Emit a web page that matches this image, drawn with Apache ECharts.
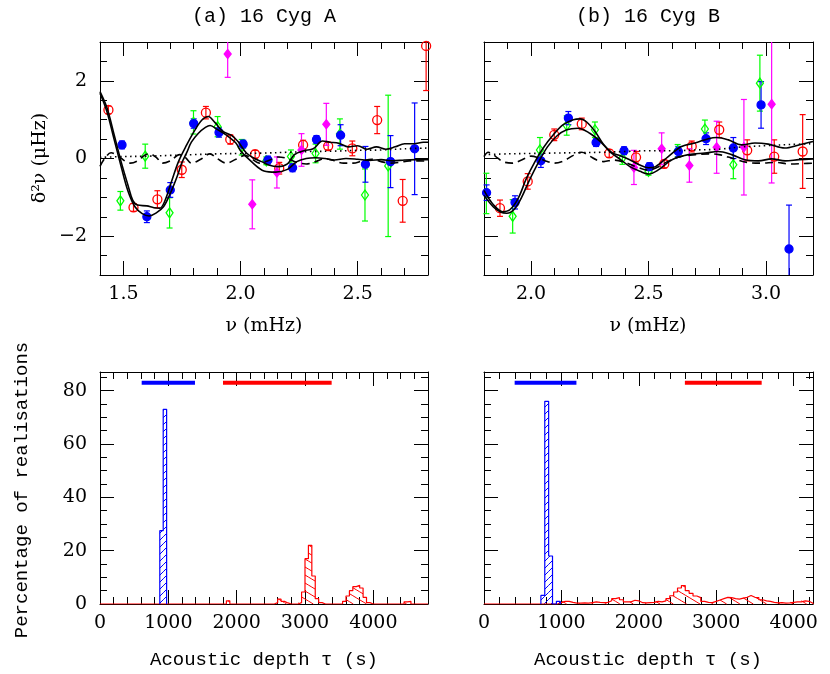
<!DOCTYPE html>
<html>
<head>
<meta charset="utf-8">
<script src="https://cdn.jsdelivr.net/npm/echarts@6.0.0/dist/echarts.min.js"></script>
<style>
html, body { margin: 0; padding: 0; background: #fff; }
#chart { width: 830px; height: 674px; }
</style>
</head>
<body>
<div id="chart"></div>
<script>
// ---------- data ----------
// second differences: [nu (mHz), d2nu (uHz), error]
const cygABlue = [[1.494,0.35,0.1],[1.600,-1.50,0.15],[1.700,-0.81,0.19],[1.800,0.90,0.12],[1.908,0.67,0.12],[2.011,0.37,0.1],[2.117,-0.04,0.1],[2.222,-0.24,0.1],[2.324,0.49,0.1],[2.427,0.60,0.27],[2.533,-0.15,0.46],[2.640,-0.08,0.67],[2.743,0.25,1.18]];
const cygARed = [[1.436,1.25,0.1],[1.543,-1.26,0.1],[1.645,-1.05,0.22],[1.749,-0.29,0.2],[1.852,1.18,0.16],[1.956,0.49,0.12],[2.062,0.11,0.1],[2.165,-0.25,0.15],[2.267,0.35,0.12],[2.374,0.32,0.1],[2.477,0.26,0.19],[2.583,0.99,0.35],[2.692,-1.09,0.55],[2.792,2.90,1.15]];
const cygAGreen = [[1.487,-1.09,0.24],[1.593,0.06,0.31],[1.697,-1.40,0.39],[1.799,0.93,0.30],[1.902,0.82,0.26],[2.005,0.29,0.2],[2.110,-0.06,0.1],[2.215,0.05,0.17],[2.320,0.13,0.24],[2.424,0.63,0.39],[2.531,-0.94,0.67],[2.630,-0.19,1.82]];
const cygAMagenta = [[1.945,2.69,0.6],[2.050,-1.18,0.63],[2.155,-0.36,0.4],[2.260,0.22,0.42],[2.366,0.88,0.54]];

const cygBBlue = [[1.811,-0.88,0.2],[1.932,-1.13,0.17],[2.042,-0.06,0.17],[2.159,1.04,0.17],[2.277,0.41,0.1],[2.396,0.20,0.1],[2.504,-0.21,0.1],[2.627,0.18,0.13],[2.745,0.51,0.15],[2.861,0.27,0.27],[2.979,1.38,0.6],[3.098,-2.33,1.13]];
const cygBRed = [[1.868,-1.28,0.21],[1.986,-0.59,0.2],[2.099,0.61,0.15],[2.216,0.89,0.15],[2.333,0.13,0.1],[2.447,0.03,0.15],[2.567,-0.14,0.1],[2.684,0.31,0.14],[2.801,0.74,0.2],[2.920,0.21,0.27],[3.035,0.05,0.43],[3.156,0.18,0.95]];
const cygBGreen = [[1.810,-0.90,0.52],[1.922,-1.49,0.43],[2.038,0.22,0.32],[2.152,0.85,0.25],[2.272,0.74,0.2],[2.389,0.01,0.16],[2.500,-0.33,0.1],[2.624,0.20,0.16],[2.740,0.76,0.23],[2.861,-0.16,0.36],[2.974,1.94,0.72]];
const cygBMagenta = [[2.438,-0.23,0.44],[2.556,0.25,0.41],[2.674,-0.18,0.43],[2.790,0.29,0.67],[2.906,0.29,1.23],[3.024,1.40,2.03]];

// fitted curves
const fitA1 = [[1.40,1.72],[1.43,1.30],[1.46,0.62],[1.49,-0.08],[1.52,-0.70],[1.54,-1.08],[1.56,-1.20],[1.60,-1.22],[1.63,-1.27],[1.655,-1.28],[1.675,-1.12],[1.705,-0.60],[1.735,-0.08],[1.77,0.35],[1.805,0.73],[1.835,0.99],[1.862,1.08],[1.89,0.93],[1.925,0.70],[1.96,0.60],[1.99,0.43],[2.025,0.14],[2.06,0.0],[2.09,-0.08],[2.12,-0.17],[2.16,-0.21],[2.20,-0.14],[2.23,0.10],[2.27,0.20],[2.31,0.25],[2.35,0.45],[2.38,0.42],[2.42,0.39],[2.46,0.30],[2.50,0.33],[2.54,0.24],[2.58,0.30],[2.62,0.24],[2.66,0.30],[2.70,0.38],[2.74,0.38],[2.78,0.42],[2.80,0.42]];
const fitA2 = [[1.40,1.68],[1.43,1.20],[1.46,0.50],[1.49,-0.20],[1.52,-0.85],[1.55,-1.25],[1.58,-1.42],[1.61,-1.48],[1.64,-1.40],[1.67,-1.25],[1.70,-0.90],[1.73,-0.45],[1.75,-0.10],[1.77,0.15],[1.79,0.42],[1.82,0.65],[1.85,0.80],[1.87,0.85],[1.90,0.75],[1.94,0.60],[1.98,0.40],[2.00,0.20],[2.05,-0.10],[2.10,-0.32],[2.15,-0.35],[2.20,-0.28],[2.24,-0.08],[2.28,0.0],[2.32,0.02],[2.36,0.0],[2.40,-0.04],[2.45,0.0],[2.50,-0.02],[2.55,-0.05],[2.60,-0.03],[2.65,-0.06],[2.70,-0.04],[2.75,-0.03],[2.80,-0.03]];
const dashA = [[1.40,-0.20],[1.42,0.0],[1.447,0.15],[1.48,0.05],[1.51,-0.08],[1.53,-0.12],[1.56,-0.06],[1.59,0.08],[1.611,0.12],[1.64,0.03],[1.667,-0.12],[1.70,-0.06],[1.74,0.10],[1.765,0.02],[1.79,-0.12],[1.83,-0.02],[1.869,0.12],[1.90,0.0],[1.94,-0.12],[1.98,-0.02],[2.02,0.08],[2.05,-0.02],[2.08,-0.12],[2.12,-0.05],[2.16,0.04],[2.20,0.0],[2.24,-0.10],[2.28,-0.14],[2.32,-0.08],[2.36,0.0],[2.40,-0.06],[2.44,-0.12],[2.48,-0.12],[2.52,-0.06],[2.56,-0.02],[2.60,-0.08],[2.64,-0.12],[2.68,-0.10],[2.72,-0.06],[2.76,-0.06],[2.80,-0.07]];
const dotA = [[1.40,0.03],[1.50,0.05],[1.60,0.06],[1.70,0.08],[1.80,0.10],[1.90,0.12],[2.00,0.13],[2.10,0.14],[2.20,0.16],[2.30,0.18],[2.40,0.19],[2.50,0.21],[2.60,0.22],[2.70,0.25],[2.80,0.27]];

const fitB1 = [[1.80,-0.82],[1.84,-1.19],[1.88,-1.37],[1.91,-1.32],[1.946,-1.02],[1.98,-0.52],[2.017,-0.08],[2.052,0.27],[2.095,0.61],[2.137,0.87],[2.18,1.00],[2.21,1.02],[2.237,0.94],[2.272,0.70],[2.308,0.37],[2.343,0.16],[2.38,0.07],[2.42,-0.03],[2.46,-0.16],[2.50,-0.24],[2.53,-0.21],[2.584,0.05],[2.641,0.31],[2.698,0.40],[2.755,0.51],[2.79,0.54],[2.84,0.48],[2.896,0.35],[2.953,0.40],[3.01,0.37],[3.08,0.27],[3.14,0.35],[3.20,0.44]];
const fitB2 = [[1.80,-0.95],[1.84,-1.25],[1.87,-1.38],[1.897,-1.41],[1.93,-1.30],[1.96,-1.00],[1.99,-0.60],[2.03,-0.12],[2.07,0.30],[2.11,0.58],[2.152,0.74],[2.20,0.78],[2.25,0.65],[2.294,0.44],[2.34,0.15],[2.38,-0.02],[2.421,-0.21],[2.464,-0.33],[2.50,-0.40],[2.54,-0.30],[2.60,-0.03],[2.67,0.10],[2.74,0.14],[2.797,0.18],[2.854,0.10],[2.91,-0.03],[2.968,-0.06],[3.024,-0.01],[3.081,-0.06],[3.14,-0.03],[3.20,-0.01]];
const dashB = [[1.80,0.05],[1.818,0.16],[1.85,0.05],[1.88,-0.08],[1.92,-0.12],[1.96,-0.04],[2.00,0.06],[2.03,0.02],[2.07,-0.08],[2.10,-0.12],[2.14,-0.06],[2.18,0.08],[2.216,0.16],[2.25,0.06],[2.28,-0.04],[2.31,-0.08],[2.35,-0.04],[2.40,-0.10],[2.45,-0.22],[2.50,-0.30],[2.54,-0.22],[2.58,-0.08],[2.63,0.04],[2.70,0.10],[2.76,0.12],[2.80,0.10],[2.86,0.0],[2.92,-0.10],[2.98,-0.12],[3.04,-0.10],[3.10,-0.14],[3.16,-0.13],[3.20,-0.12]];
const dotB = [[1.80,0.10],[1.90,0.12],[2.00,0.13],[2.10,0.14],[2.20,0.15],[2.30,0.16],[2.40,0.18],[2.50,0.20],[2.60,0.20],[2.70,0.22],[2.80,0.24],[2.90,0.30],[3.00,0.33],[3.10,0.36],[3.20,0.38]];

// histograms of acoustic depth: [bin start (s), percentage], bins are 50 s wide
const binW = 50;
const histABlue = [[875,27.5],[925,73]];
const histARed = [[1850,1.2],[2550,0.5],[2600,1.8],[2650,1.0],[2700,0.4],[2900,0.5],[2950,4.5],[3000,17],[3050,22],[3100,10.5],[3150,2],[3200,0.5],[3550,1],[3600,3],[3650,5],[3700,6.5],[3750,7],[3800,6],[3850,2.5],[3900,0.5],[4450,0.8],[4500,1]];
const histBBlue = [[735,3.2],[785,76],[835,18],[935,1]];
const histBRed = [[950,0.5],[1000,1.0],[1050,1.0],[1100,0.6],[1150,0.3],[1200,0.3],[1250,0.4],[1300,0.3],[1350,0.5],[1400,0.8],[1450,0.6],[1500,0.5],[1550,0.6],[1600,1.2],[1650,2.0],[1700,2.4],[1750,1.6],[1800,0.8],[1850,0.8],[1900,1.4],[1950,1.2],[2000,0.5],[2050,0.4],[2100,0.5],[2150,0.6],[2200,1.0],[2250,0.8],[2300,1.2],[2350,2.0],[2400,3.1],[2450,4.5],[2500,6.0],[2550,6.9],[2600,5.0],[2650,4.0],[2700,3.0],[2750,2.4],[2800,1.0],[2850,0.6],[2900,0.5],[2950,1.0],[3000,1.5],[3050,2.0],[3100,2.5],[3150,2.4],[3200,2.0],[3250,1.8],[3300,2.2],[3350,2.5],[3400,3.2],[3450,2.5],[3500,2.4],[3550,1.6],[3600,1.2],[3650,1.0],[3700,0.6],[3750,0.4],[3800,0.5],[3850,0.3],[3900,0.4],[3950,0.6],[4000,0.8],[4050,0.8],[4100,1.2],[4150,1.0],[4200,0.3]];

// ranges shown as thick bars near the top
const rangeLevel = 83;
const rangeABlue = [610, 1390];
const rangeARed = [1800, 3390];
const rangeBBlue = [396, 1194];
const rangeBRed = [2595, 3587];

// tick labels
const xTicksA = [1.5, 2.0, 2.5];
const xTicksB = [2.0, 2.5, 3.0];
const yTicksTop = [-2, 0, 2];
const tauTicks = [0, 1000, 2000, 3000, 4000];
const pctTicks = [0, 20, 40, 60, 80];

// ---------- chart ----------
const chart = echarts.init(document.getElementById('chart'));
const frame = {color: '#000', width: 1};
const numFont = {fontFamily: 'DejaVu Serif', fontSize: 19, color: '#000'};
const BLUE = '#0000ff', RED = '#ff0000', GREEN = '#00ff00', MAGENTA = '#ff00ff';

function fmtDec(v) { return v.toFixed(1); }
function fmtInt(v) { return v < 0 ? '\u2212' + (-v) : String(v); }

const panels = [
  {x: [1.4, 2.8], xMajor: xTicksA, xMinor: 0.1, xFmt: fmtDec, y: [-3, 3], yMajor: yTicksTop, yMinor: 0.5, yLab: true},
  {x: [1.8, 3.2], xMajor: xTicksB, xMinor: 0.1, xFmt: fmtDec, y: [-3, 3], yMajor: yTicksTop, yMinor: 0.5, yLab: false},
  {x: [0, 4800], xMajor: tauTicks, xMinor: 200, xFmt: fmtInt, y: [0, 87], yMajor: pctTicks, yMinor: 5, yLab: true},
  {x: [0, 4250], xMajor: tauTicks, xMinor: 200, xFmt: fmtInt, y: [0, 87], yMajor: pctTicks, yMinor: 5, yLab: false}
];

// four axes per side pair: long ticks + labels, short ticks, and the same mirrored
function sideAxes(g, range, major, minorStep, pos, opp, fmt) {
  const base = {gridIndex: g, type: 'value', min: range[0], max: range[1], splitLine: {show: false}};
  const line = {show: true, onZero: false, lineStyle: frame};
  const noLine = {show: false, onZero: false};
  const off = {show: false};
  const lbl = fmt ? Object.assign({show: true, customValues: major, formatter: fmt,
    margin: (pos === 'left') ? 13 : 10}, numFont) : off;
  return [
    Object.assign({}, base, {position: pos, axisLine: line, axisTick: {show: true, inside: true, length: 14, customValues: major, lineStyle: frame}, axisLabel: lbl}),
    Object.assign({}, base, {position: pos, interval: minorStep, axisLine: noLine, axisTick: {show: true, inside: true, length: 7, lineStyle: frame}, axisLabel: off}),
    Object.assign({}, base, {position: opp, axisLine: line, axisTick: {show: true, inside: true, length: 14, customValues: major, lineStyle: frame}, axisLabel: off}),
    Object.assign({}, base, {position: opp, interval: minorStep, axisLine: noLine, axisTick: {show: true, inside: true, length: 7, lineStyle: frame}, axisLabel: off})
  ];
}

const xAxes = [], yAxes = [];
panels.forEach(function (p, g) {
  xAxes.push.apply(xAxes, sideAxes(g, p.x, p.xMajor, p.xMinor, 'bottom', 'top', p.xFmt));
  yAxes.push.apply(yAxes, sideAxes(g, p.y, p.yMajor, p.yMinor, 'left', 'right', p.yLab ? fmtInt : null));
});

function ax(g) { return {xAxisIndex: 4 * g, yAxisIndex: 4 * g}; }

function errSeries(g, data, color) {
  return Object.assign({
    type: 'custom', silent: true, z: 3, data: data, encode: {x: 0, y: 1},
    renderItem: function (params, api) {
      const cs = params.coordSys;
      const x = api.value(0), y = api.value(1), e = api.value(2);
      const a = api.coord([x, y + e]), b = api.coord([x, y - e]);
      const top = Math.max(a[1], cs.y), bot = Math.min(b[1], cs.y + cs.height);
      const st = {stroke: color, lineWidth: 1.2};
      const kids = [{type: 'line', shape: {x1: a[0], y1: top, x2: a[0], y2: bot}, style: st}];
      if (a[1] >= cs.y) kids.push({type: 'line', shape: {x1: a[0] - 3, y1: a[1], x2: a[0] + 3, y2: a[1]}, style: st});
      if (b[1] <= cs.y + cs.height) kids.push({type: 'line', shape: {x1: b[0] - 3, y1: b[1], x2: b[0] + 3, y2: b[1]}, style: st});
      return {type: 'group', children: kids};
    }
  }, ax(g));
}

function pointSeries(g, data, symbol, size, fill, stroke) {
  return Object.assign({
    type: 'scatter', silent: true, z: 4, clip: true,
    data: data.map(function (d) { return [d[0], d[1]]; }),
    symbol: symbol, symbolSize: size,
    itemStyle: {color: fill, borderColor: stroke, borderWidth: 1.3, opacity: 1}
  }, ax(g));
}

function curve(g, data, type) {
  return Object.assign({
    type: 'line', silent: true, z: 5, symbol: 'none', smooth: 0.35, data: data,
    lineStyle: {color: '#000', width: 1.6, type: type}
  }, ax(g));
}

function stepSeries(g, bins, from, to, color) {
  const vals = new Map(bins);
  const pts = [[from, 0]];
  for (let s = from; s < to; s += binW) pts.push([s, vals.get(s) || 0]);
  pts.push([to, 0]);
  return Object.assign({
    type: 'line', step: 'end', symbol: 'none', silent: true, z: 3, data: pts,
    lineStyle: {color: color, width: 1.2}
  }, ax(g));
}

function hatchSeries(g, bins, color, slope, gap) {
  return Object.assign({
    type: 'custom', silent: true, z: 2,
    data: bins.map(function (b) { return [b[0], b[0] + binW, b[1]]; }),
    encode: {x: [0, 1], y: 2},
    renderItem: function (params, api) {
      const p0 = api.coord([api.value(0), api.value(2)]);
      const p1 = api.coord([api.value(1), 0]);
      const xa = p0[0], xb = p1[0], yt = p0[1], yb = p1[1];
      const cs = [yt - slope * xa, yt - slope * xb, yb - slope * xa, yb - slope * xb];
      const cmin = Math.min.apply(null, cs), cmax = Math.max.apply(null, cs);
      const kids = [];
      for (let k = Math.ceil(cmin / gap); k * gap <= cmax; k++) {
        const c = k * gap;
        const u0 = (yt - c) / slope, u1 = (yb - c) / slope;
        const lo = Math.max(xa, Math.min(u0, u1)), hi = Math.min(xb, Math.max(u0, u1));
        if (hi - lo < 0.3) continue;
        kids.push({type: 'line', shape: {x1: lo, y1: slope * lo + c, x2: hi, y2: slope * hi + c},
          style: {stroke: color, lineWidth: 1}});
      }
      return {type: 'group', children: kids};
    }
  }, ax(g));
}

function rangeSeries(g, r, color) {
  return Object.assign({
    type: 'line', symbol: 'none', silent: true, z: 4,
    data: [[r[0], rangeLevel], [r[1], rangeLevel]],
    lineStyle: {color: color, width: 4}
  }, ax(g));
}

const series = [
  curve(0, dotA, [1.5, 3.5]), curve(0, dashA, [8, 5]), curve(0, fitA2, 'solid'), curve(0, fitA1, 'solid'),
  errSeries(0, cygAGreen, GREEN), errSeries(0, cygARed, RED), errSeries(0, cygABlue, BLUE), errSeries(0, cygAMagenta, MAGENTA),
  pointSeries(0, cygAGreen, 'diamond', [7, 10], 'rgba(0,0,0,0)', GREEN),
  pointSeries(0, cygARed, 'circle', 9, 'rgba(0,0,0,0)', RED),
  pointSeries(0, cygABlue, 'circle', 8, BLUE, BLUE),
  pointSeries(0, cygAMagenta, 'diamond', [7, 9], MAGENTA, MAGENTA),

  curve(1, dotB, [1.5, 3.5]), curve(1, dashB, [8, 5]), curve(1, fitB2, 'solid'), curve(1, fitB1, 'solid'),
  errSeries(1, cygBGreen, GREEN), errSeries(1, cygBRed, RED), errSeries(1, cygBBlue, BLUE), errSeries(1, cygBMagenta, MAGENTA),
  pointSeries(1, cygBGreen, 'diamond', [7, 10], 'rgba(0,0,0,0)', GREEN),
  pointSeries(1, cygBRed, 'circle', 9, 'rgba(0,0,0,0)', RED),
  pointSeries(1, cygBBlue, 'circle', 8, BLUE, BLUE),
  pointSeries(1, cygBMagenta, 'diamond', [7, 9], MAGENTA, MAGENTA),

  hatchSeries(2, histARed, RED, 0.6, 8), stepSeries(2, histARed, 0, 4800, RED),
  hatchSeries(2, histABlue, BLUE, -1, 7), stepSeries(2, histABlue, 875, 975, BLUE),
  rangeSeries(2, rangeABlue, BLUE), rangeSeries(2, rangeARed, RED),

  hatchSeries(3, histBRed, RED, 0.6, 8), stepSeries(3, histBRed, 0, 4250, RED),
  hatchSeries(3, histBBlue, BLUE, -1, 7), stepSeries(3, histBBlue, 735, 985, BLUE),
  rangeSeries(3, rangeBBlue, BLUE), rangeSeries(3, rangeBRed, RED)
];

function txt(s, x, y, font, rot) {
  return {type: 'text', x: x, y: y, rotation: rot || 0, silent: true,
    style: {text: s, font: font, fill: '#000', align: 'center', verticalAlign: 'middle',
      textAlign: 'center', textVerticalAlign: 'middle'}};
}
const mono = '20px "Liberation Mono"';
const monoS = '19px "Liberation Mono"';
const serif = '19px "DejaVu Serif"';

chart.setOption({
  animation: false,
  backgroundColor: '#fff',
  grid: [
    {left: 100, top: 42, width: 328, height: 233, outerBoundsMode: 'none'},
    {left: 484, top: 42, width: 329, height: 233, outerBoundsMode: 'none'},
    {left: 100, top: 372, width: 328, height: 232, outerBoundsMode: 'none'},
    {left: 484, top: 372, width: 329, height: 232, outerBoundsMode: 'none'}
  ],
  xAxis: xAxes,
  yAxis: yAxes,
  series: series,
  graphic: [
    txt('(a) 16 Cyg A', 264, 17, mono),
    txt('(b) 16 Cyg B', 648, 17, mono),
    txt('\u03bd (mHz)', 264, 326, serif),
    txt('\u03bd (mHz)', 648, 326, serif),
    txt('Acoustic depth \u03c4 (s)', 264, 660, monoS),
    txt('Acoustic depth \u03c4 (s)', 648, 660, monoS),
    txt('\u03b4\u00b2\u03bd (\u03bcHz)', 40, 158, serif, Math.PI / 2),
    txt('Percentage of realisations', 22, 490, monoS, Math.PI / 2)
  ]
});
</script>
</body>
</html>
